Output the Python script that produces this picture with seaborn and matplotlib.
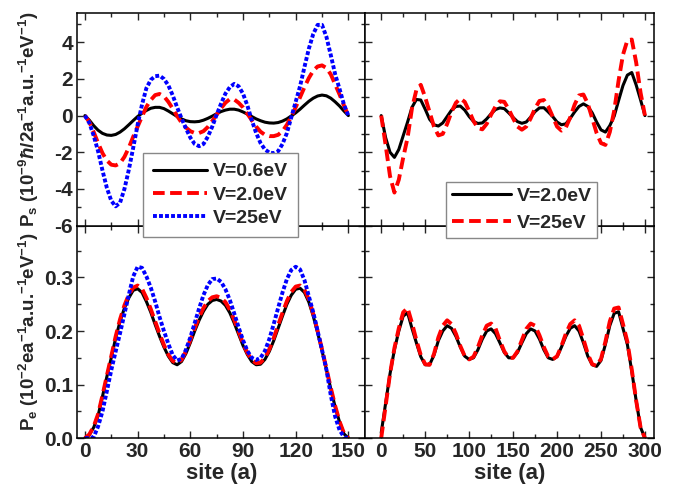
import matplotlib
matplotlib.use("Agg")
import matplotlib.pyplot as plt
import seaborn as sns
from matplotlib.ticker import AutoMinorLocator, FixedLocator

# site positions (a)
site_150 = [i * 2.5 for i in range(61)]
site_300 = list(range(0, 301, 5))

# P_s, chain of 150 sites
ps150_v06 = [0, -0.25, -0.55, -0.8, -0.97, -1.06, -1.08, -1.03, -0.9, -0.72,
             -0.5, -0.27, -0.05, 0.13, 0.28, 0.4, 0.45, 0.45, 0.38, 0.25,
             0.1, -0.05, -0.18, -0.28, -0.33, -0.34, -0.32, -0.25, -0.15, -0.03,
             0.1, 0.22, 0.3, 0.35, 0.35, 0.3, 0.2, 0.08, -0.05, -0.18,
             -0.28, -0.36, -0.4, -0.41, -0.38, -0.3, -0.18, -0.02, 0.15, 0.35,
             0.57, 0.78, 0.95, 1.07, 1.12, 1.08, 0.95, 0.75, 0.52, 0.25, 0]
ps150_v20 = [0, -0.35, -0.9, -1.5, -2.05, -2.45, -2.68, -2.72, -2.6, -2.25,
             -1.75, -1.15, -0.6, -0.05, 0.48, 0.85, 1.12, 1.18, 1.05, 0.75,
             0.38, -0.02, -0.38, -0.65, -0.85, -0.95, -0.95, -0.85, -0.62, -0.3,
             0.05, 0.4, 0.7, 0.9, 0.88, 0.7, 0.45, 0.1, -0.25, -0.6,
             -0.88, -1.05, -1.12, -1.12, -1.05, -0.85, -0.5, -0.05, 0.45, 1.0,
             1.55, 2.05, 2.45, 2.68, 2.74, 2.6, 2.25, 1.7, 1.15, 0.55, 0]
ps150_v25 = [0, -0.4, -1.1, -1.95, -3.0, -3.95, -4.65, -4.95, -4.75, -4.0,
             -2.95, -1.75, -0.5, 0.6, 1.5, 1.95, 2.15, 2.18, 2.0, 1.65,
             1.1, 0.45, -0.15, -0.7, -1.2, -1.55, -1.67, -1.55, -1.15, -0.6,
             0.05, 0.65, 1.2, 1.55, 1.73, 1.6, 1.2, 0.55, -0.25, -0.95,
             -1.5, -1.85, -2.02, -2.05, -1.95, -1.55, -0.95, -0.1, 0.75, 1.6,
             2.65, 3.65, 4.45, 4.95, 4.95, 4.3, 3.3, 2.25, 1.45, 0.6, 0]

# P_e, chain of 150 sites
pe150_v06 = [0.0, 0.006, 0.02, 0.042, 0.078, 0.115, 0.15, 0.187, 0.218, 0.243,
             0.262, 0.276, 0.279, 0.272, 0.255, 0.235, 0.212, 0.19, 0.17, 0.153,
             0.141, 0.137, 0.143, 0.158, 0.178, 0.2, 0.22, 0.237, 0.25, 0.257,
             0.259, 0.256, 0.248, 0.234, 0.215, 0.194, 0.173, 0.156, 0.143, 0.137,
             0.138, 0.147, 0.162, 0.182, 0.205, 0.228, 0.25, 0.267, 0.278, 0.28,
             0.272, 0.254, 0.228, 0.197, 0.163, 0.128, 0.092, 0.058, 0.03, 0.008, 0.0]
pe150_v20 = [0.0, 0.007, 0.022, 0.045, 0.08, 0.117, 0.153, 0.19, 0.222, 0.248,
             0.268, 0.281, 0.285, 0.279, 0.262, 0.241, 0.218, 0.195, 0.174, 0.156,
             0.144, 0.14, 0.146, 0.162, 0.183, 0.205, 0.226, 0.243, 0.256, 0.263,
             0.265, 0.262, 0.254, 0.24, 0.221, 0.199, 0.177, 0.159, 0.146, 0.14,
             0.141, 0.15, 0.166, 0.187, 0.211, 0.234, 0.256, 0.273, 0.283, 0.285,
             0.277, 0.259, 0.232, 0.2, 0.166, 0.13, 0.094, 0.06, 0.031, 0.009, 0.0]
pe150_v25 = [0.0, 0.0, 0.002, 0.022, 0.05, 0.088, 0.127, 0.162, 0.196, 0.232,
             0.268, 0.302, 0.32, 0.318, 0.302, 0.281, 0.255, 0.226, 0.2, 0.176,
             0.155, 0.145, 0.148, 0.165, 0.188, 0.215, 0.242, 0.267, 0.286, 0.297,
             0.298, 0.292, 0.278, 0.258, 0.233, 0.207, 0.183, 0.163, 0.15, 0.146,
             0.15, 0.163, 0.185, 0.213, 0.243, 0.272, 0.297, 0.314, 0.32, 0.315,
             0.295, 0.265, 0.235, 0.2, 0.165, 0.128, 0.08, 0.04, 0.015, 0.002, 0.0]

# P_s, chain of 300 sites
ps300_v20 = [0.0, -1.2, -2.0, -2.28, -1.85, -1.1, -0.35, 0.45, 0.88, 0.85, 0.35,
             -0.2, -0.5, -0.57, -0.4, -0.05, 0.3, 0.5, 0.52, 0.3, -0.05,
             -0.32, -0.43, -0.4, -0.18, 0.1, 0.33, 0.42, 0.38, 0.15, -0.1,
             -0.33, -0.42, -0.35, -0.08, 0.22, 0.42, 0.43, 0.2, -0.05, -0.35,
             -0.5, -0.45, -0.15, 0.2, 0.5, 0.64, 0.5, 0.15, -0.35, -0.78,
             -0.9, -0.55, -0.03, 0.82, 1.64, 2.21, 2.35, 1.67, 0.86, 0.0]
ps300_v25 = [0.0, -1.6, -3.3, -4.2, -3.5, -2.3, -1.2, 0.4, 1.4, 1.68, 1.0,
             0.2, -0.6, -1.08, -1.0, -0.45, 0.2, 0.7, 0.93, 0.75, 0.25,
             -0.3, -0.68, -0.75, -0.45, 0.05, 0.5, 0.78, 0.75, 0.35, -0.15,
             -0.6, -0.77, -0.6, -0.15, 0.4, 0.8, 0.85, 0.5, -0.05, -0.6,
             -0.82, -0.65, -0.1, 0.6, 1.1, 1.15, 0.65, -0.15, -0.95, -1.5,
             -1.6, -0.9, 0.26, 1.91, 3.32, 4.11, 4.15, 2.9, 1.25, 0.0]

# P_e, chain of 300 sites
pe300_v20 = [0.01, 0.065, 0.12, 0.165, 0.2, 0.228, 0.234, 0.205, 0.178, 0.152, 0.137,
             0.137, 0.155, 0.182, 0.2, 0.21, 0.205, 0.19, 0.17, 0.153, 0.147,
             0.15, 0.165, 0.185, 0.2, 0.204, 0.195, 0.178, 0.16, 0.15, 0.15,
             0.16, 0.178, 0.195, 0.204, 0.2, 0.185, 0.165, 0.15, 0.147, 0.152,
             0.17, 0.19, 0.205, 0.21, 0.2, 0.178, 0.153, 0.137, 0.134, 0.145,
             0.175, 0.21, 0.233, 0.236, 0.205, 0.175, 0.125, 0.07, 0.02, 0.0]
pe300_v25 = [0.0, 0.06, 0.12, 0.168, 0.205, 0.235, 0.243, 0.215, 0.183, 0.155, 0.138,
             0.137, 0.157, 0.188, 0.21, 0.22, 0.213, 0.195, 0.172, 0.153, 0.147,
             0.152, 0.17, 0.192, 0.21, 0.214, 0.205, 0.182, 0.162, 0.15, 0.15,
             0.162, 0.183, 0.204, 0.214, 0.21, 0.192, 0.17, 0.152, 0.147, 0.153,
             0.172, 0.195, 0.213, 0.22, 0.21, 0.185, 0.157, 0.138, 0.135, 0.148,
             0.18, 0.218, 0.242, 0.244, 0.213, 0.18, 0.128, 0.07, 0.02, 0.0]

sns.set_style("ticks")
plt.rcParams["font.family"] = ["Liberation Sans", "DejaVu Sans"]
plt.rcParams["font.weight"] = "bold"
plt.rcParams["mathtext.fontset"] = "custom"
plt.rcParams["mathtext.rm"] = "Liberation Sans:bold"
plt.rcParams["mathtext.bf"] = "Liberation Sans:bold"
plt.rcParams["mathtext.it"] = "Liberation Sans:italic:bold"
plt.rcParams["mathtext.fallback"] = "stixsans"
plt.rcParams["axes.unicode_minus"] = False
plt.rcParams["xtick.direction"] = "in"
plt.rcParams["ytick.direction"] = "in"

solid = dict(color="black", lw=2.2, linestyle="-")
dashed = dict(color="#ff0000", lw=2.8, linestyle=(0, (3.0, 1.4)))
dotted = dict(color="#0000ff", lw=2.8, linestyle=(0, (1.0, 0.55)))

fig, axes = plt.subplots(2, 2, figsize=(6.94, 4.99), dpi=100)
fig.subplots_adjust(left=0.111, right=0.942, top=0.974, bottom=0.122,
                    wspace=0, hspace=0)
(ax_tl, ax_tr), (ax_bl, ax_br) = axes

def draw(ax, x, y, style, label=None):
    sns.lineplot(x=x, y=y, ax=ax, estimator=None, sort=False,
                 label=label, legend=False, **style)

draw(ax_tl, site_150, ps150_v06, solid, "V=0.6eV")
draw(ax_tl, site_150, ps150_v20, dashed, "V=2.0eV")
draw(ax_tl, site_150, ps150_v25, dotted, "V=25eV")
draw(ax_bl, site_150, pe150_v06, solid)
draw(ax_bl, site_150, pe150_v20, dashed)
draw(ax_bl, site_150, pe150_v25, dotted)

draw(ax_tr, site_300, ps300_v20, solid, "V=2.0eV")
draw(ax_tr, site_300, ps300_v25, dashed, "V=25eV")
draw(ax_br, site_300, pe300_v20, solid)
draw(ax_br, site_300, pe300_v25, dashed)

for ax in axes.flat:
    ax.tick_params(which="both", top=True, right=True, width=1.0,
                   labelsize=15, pad=3)
    ax.tick_params(which="major", length=5)
    ax.tick_params(which="minor", length=3)
    ax.xaxis.set_minor_locator(AutoMinorLocator(2))
    ax.yaxis.set_minor_locator(AutoMinorLocator(2))
    for sp in ax.spines.values():
        sp.set_linewidth(1.1)
        sp.set_color("black")
    ax.set_xlabel("")
    ax.set_ylabel("")

for ax in (ax_tl, ax_bl):
    ax.set_xlim(-4.5, 159.7)
    ax.xaxis.set_major_locator(FixedLocator([0, 30, 60, 90, 120, 150]))
for ax in (ax_tr, ax_br):
    ax.set_xlim(-18, 310)
    ax.xaxis.set_major_locator(FixedLocator([0, 50, 100, 150, 200, 250, 300]))
for ax in (ax_tl, ax_tr):
    ax.set_ylim(-6, 5.6)
    ax.yaxis.set_major_locator(FixedLocator([-6, -4, -2, 0, 2, 4]))
    ax.tick_params(labelbottom=False)
for ax in (ax_bl, ax_br):
    ax.set_ylim(0, 0.397)
    ax.yaxis.set_major_locator(FixedLocator([0.0, 0.1, 0.2, 0.3]))
    ax.yaxis.set_minor_locator(FixedLocator([0.05, 0.15, 0.25, 0.35]))
for ax in (ax_tr, ax_br):
    ax.tick_params(labelleft=False)

ax_tl.set_ylabel(r"P$_\mathregular{s}$ (10$^\mathregular{-9}\hbar$/2a$^\mathregular{-1}$"
                 r"a.u.$^\mathregular{-1}$eV$^\mathregular{-1}$)",
                 fontsize=13.5, fontweight="bold")
ax_bl.set_ylabel(r"P$_\mathregular{e}$ (10$^\mathregular{-2}$ea$^\mathregular{-1}$"
                 r"a.u.$^\mathregular{-1}$eV$^\mathregular{-1}$)",
                 fontsize=13.5, fontweight="bold")
ax_tl.yaxis.set_label_coords(-0.125, 0.5)
ax_bl.yaxis.set_label_coords(-0.125, 0.5)
ax_bl.set_xlabel("site (a)", fontsize=16, fontweight="bold", labelpad=1)
ax_br.set_xlabel("site (a)", fontsize=16, fontweight="bold", labelpad=1)

# legends hang over the lower panels, so keep the top row in front
ax_tl.set_zorder(3)
ax_tr.set_zorder(3)
leg_kw = dict(loc="upper left", frameon=True, fancybox=False, framealpha=1,
              edgecolor="#888888", handletextpad=0.3, borderaxespad=0,
              prop={"weight": "bold", "size": 14})
leg1 = ax_tl.legend(bbox_to_anchor=(0.228, 0.341), handlelength=2.8,
                    labelspacing=0.3, borderpad=0.5, **leg_kw)
leg2 = ax_tr.legend(bbox_to_anchor=(0.281, 0.206), handlelength=3.0,
                    labelspacing=0.48, borderpad=0.3, **leg_kw)
for leg in (leg1, leg2):
    leg.get_frame().set_linewidth(1.0)

fig.canvas.draw()
for ax in axes.flat:
    for lab in ax.get_xticklabels() + ax.get_yticklabels():
        lab.set_fontweight("bold")

fig.savefig("out.png", dpi=100)
